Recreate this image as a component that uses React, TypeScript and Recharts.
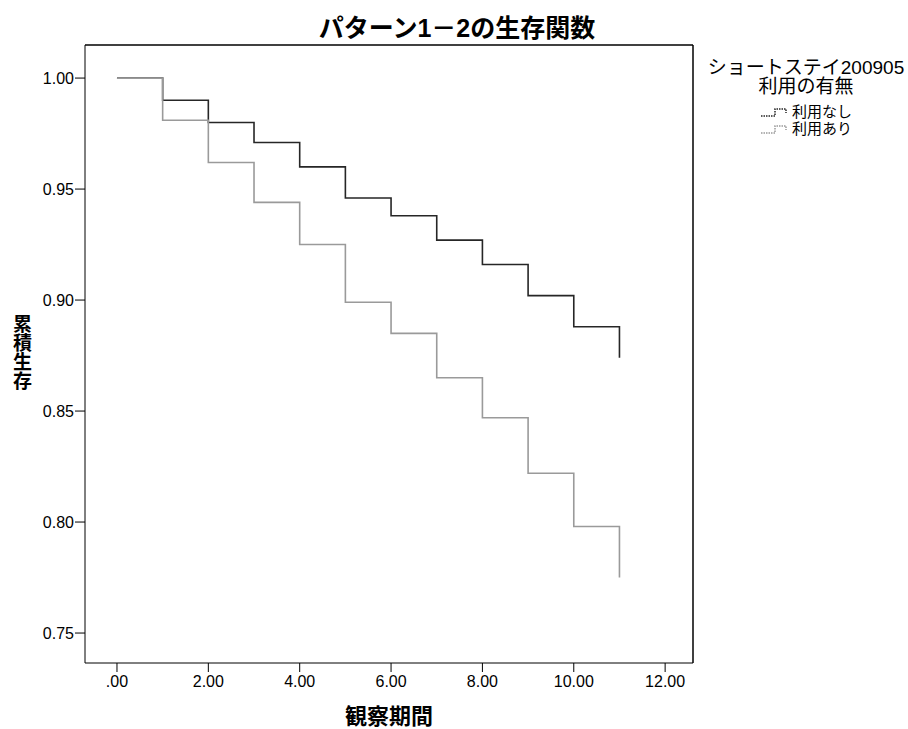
import React from "react";
import { LineChart, Line, XAxis, YAxis, ReferenceLine } from "recharts";

// 観察期間 (x) and cumulative survival per group
const times = [0, 1, 2, 3, 4, 5, 6, 7, 8, 9, 10, 11];
const noUse = [1.0, 0.99, 0.98, 0.971, 0.96, 0.946, 0.938, 0.927, 0.916, 0.902, 0.888, 0.874];
const use = [1.0, 0.981, 0.962, 0.944, 0.925, 0.899, 0.885, 0.865, 0.847, 0.822, 0.798, 0.775];

const xTicks = [0, 2, 4, 6, 8, 10, 12];
const yTicks = [0.75, 0.8, 0.85, 0.9, 0.95, 1.0];

const series = [
  { key: "noUse", name: "利用なし", color: "#262626" },
  { key: "use", name: "利用あり", color: "#9a9a9a" },
];

const data = times.map((t, i) => ({ t, noUse: noUse[i], use: use[i] }));

const xDomain = [-0.7, 12.61];
const yDomain = [0.7365, 1.0149];

const FONT = "'Liberation Sans', Arial, 'Noto Sans CJK JP', sans-serif";
const tickStyle = { fill: "#000", fontSize: 16, fontFamily: FONT };

const fmtX = (v: number) => (v === 0 ? ".00" : v.toFixed(2));
const fmtY = (v: number) => v.toFixed(2);

function StepIcon({ color }: { color: string }) {
  return (
    <svg width={30} height={12} style={{ display: "block" }}>
      <polyline
        points="1,10 15,10 15,3 26,3 26,7"
        fill="none"
        stroke={color}
        strokeWidth={1.5}
        strokeDasharray="1.5 1"
      />
    </svg>
  );
}

export default function App() {
  return (
    <div
      style={{
        position: "absolute",
        left: 0,
        top: 0,
        width: 908,
        height: 729,
        background: "#fff",
        fontFamily: FONT,
      }}
    >
      <div
        style={{
          position: "absolute",
          left: 0,
          width: 914,
          top: 13,
          textAlign: "center",
          fontSize: 25,
          fontWeight: "bold",
          lineHeight: "30px",
        }}
      >
        パターン1－2の生存関数
      </div>

      <LineChart
        width={908}
        height={729}
        data={data}
        margin={{ top: 45, right: 215, bottom: 26, left: 15 }}
      >
        <XAxis
          dataKey="t"
          type="number"
          domain={xDomain}
          ticks={xTicks}
          tickFormatter={fmtX}
          allowDataOverflow
          height={40}
          tickSize={9}
          tickMargin={4}
          stroke="#000"
          tick={tickStyle}
        />
        <YAxis
          type="number"
          domain={yDomain}
          ticks={yTicks}
          tickFormatter={fmtY}
          allowDataOverflow
          width={70}
          tickSize={10}
          tickMargin={1}
          stroke="#000"
          tick={tickStyle}
        />
        {/* frame: top and right edges */}
        <ReferenceLine y={yDomain[1]} stroke="#000" strokeWidth={1.5} ifOverflow="visible" />
        <ReferenceLine x={xDomain[1]} stroke="#000" strokeWidth={1.5} ifOverflow="visible" />
        {series.map((s) => (
          <Line
            key={s.key}
            dataKey={s.key}
            name={s.name}
            type="stepAfter"
            stroke={s.color}
            strokeWidth={1.6}
            dot={false}
            isAnimationActive={false}
          />
        ))}
      </LineChart>

      <div
        style={{
          position: "absolute",
          left: 5,
          top: 314,
          writingMode: "vertical-rl",
          fontSize: 19,
          fontWeight: "bold",
          lineHeight: "30px",
        }}
      >
        累積生存
      </div>

      <div
        style={{
          position: "absolute",
          left: 85,
          width: 608,
          top: 704,
          textAlign: "center",
          fontSize: 22,
          fontWeight: "bold",
          lineHeight: "26px",
        }}
      >
        観察期間
      </div>

      <div
        style={{
          position: "absolute",
          left: 702,
          width: 208,
          top: 58,
          textAlign: "center",
          fontSize: 19,
          lineHeight: "19px",
        }}
      >
        <div>ショートステイ200905</div>
        <div>利用の有無</div>
        <div style={{ marginTop: 7, display: "inline-block", textAlign: "left" }}>
          {series.map((s) => (
            <div
              key={s.key}
              style={{ display: "flex", alignItems: "center", height: 17, fontSize: 15 }}
            >
              <StepIcon color={s.color} />
              <span style={{ marginLeft: 2 }}>{s.name}</span>
            </div>
          ))}
        </div>
      </div>
    </div>
  );
}
